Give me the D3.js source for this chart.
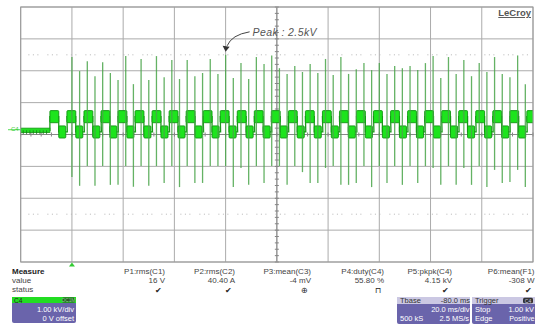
<!DOCTYPE html>
<html><head><meta charset="utf-8">
<script src="https://cdn.jsdelivr.net/npm/d3@7"></script>
<style>body{margin:0;background:#fff}svg{display:block;font-family:"Liberation Sans",Arial,sans-serif}</style>
</head><body><svg id="c" width="535" height="325"></svg>
<script>
// ---------- data ----------
const timeGrid = [-20,0,20,40,60,80,100,120,140,160,180];   // ms, 20 ms/div
const voltGrid = [-4,-3,-2,-1,0,1,2,3,4];                  // kV, 1 kV/div
const cursorLevels = [2.5, -2.5];
const baselineSpan = [-20, -8.6];
const baselineLevel = 0.13;
const risingEdges = [-8.6,-1.95,4.7,11.35,18.0,24.65,31.3,37.95,44.6,51.25,57.9,64.55,71.2,77.85,84.5,91.15,97.8,104.45,111.1,117.75,124.4,131.05,137.7,144.35,151.0,157.65,164.3,170.95,177.6];
const highLevel = 0.56, lowLevel = 0.08, levelBand = 0.19, highWidth = 3.45, lowWidth = 2.75;
const spikeTimes = [0,3,6,9,12,15,18,21,24,27,30,33,36,39,42,45,48,51,54,57,60,63,66,69,72,75,78,81,84,87,90,93,96,99,102,105,108,111,114,117,120,123,126,129,132,135,138,141,144,147,150,153,156,159,162,165,168,171,174,177];
const spikeTop = [2.43,1.99,2.30,1.83,2.27,1.93,1.71,2.46,1.58,2.37,1.71,2.46,1.80,2.34,1.74,2.34,1.83,1.93,2.37,1.90,2.50,1.77,2.24,1.74,2.43,2.21,2.48,2.08,1.90,2.15,1.96,2.21,1.93,2.37,1.87,2.43,1.90,2.05,2.24,2.02,2.24,1.90,2.15,2.08,2.15,2.02,2.24,2.46,1.77,2.43,1.90,2.34,1.83,2.24,1.96,2.43,1.90,1.80,2.48,1.58];
const spikeBottom = [-1.33,-1.61,-0.99,-1.61,-0.99,-1.58,-1.58,-0.99,-1.64,-0.99,-1.61,-0.99,-1.52,-0.99,-1.65,-0.99,-1.52,-1.52,-0.99,-0.99,-0.99,-1.65,-1.05,-1.58,-0.99,-1.52,-0.99,-0.99,-1.58,-0.99,-1.18,-1.52,-1.52,-1.05,-0.99,-1.58,-1.58,-1.52,-0.99,-1.65,-0.99,-1.52,-0.99,-1.58,-0.99,-1.52,-0.99,-1.05,-1.58,-0.99,-1.58,-1.05,-1.58,-0.99,-1.65,-1.11,-1.52,-1.49,-1.11,-1.65];
const peakIndex = 20;
const peakLabel = "Peak : 2.5kV";
const measureNames = ["P1:rms(C1)","P2:rms(C2)","P3:mean(C3)","P4:duty(C4)","P5:pkpk(C4)","P6:mean(F1)"];
const measureValues = ["16 V","40.40 A","-4 mV","55.80 %","4.15 kV","-308 W"];
const measureStatus = ["\u2714","\u2714","\u2295","\u2293","\u2714","\u2714"];
const chanInfo = ["C4","DC1M","1.00 kV/div","0 V offset"];
const tbaseInfo = ["Tbase","-80.0 ms","20.0 ms/div","500 kS","2.5 MS/s"];
const trigInfo = ["Trigger","C4","Stop","1.00 kV","Edge","Positive"];

// ---------- layout ----------
const svg = d3.select("#c");
const L = 20.7, R = 533, T = 7, B = 262;
const x = d3.scaleLinear().domain([-20,180]).range([L,R]);
const y = d3.scaleLinear().domain([-4,4]).range([B,T]);

svg.append("defs").append("clipPath").attr("id","pc").append("rect")
  .attr("x",L).attr("y",T).attr("width",R-L).attr("height",B-T);

const grid = svg.append("g");
grid.selectAll(".vx").data(timeGrid).join("line")
  .attr("x1",d=>x(d)).attr("x2",d=>x(d)).attr("y1",T).attr("y2",B)
  .attr("stroke","#ababab").attr("stroke-width",1);
grid.selectAll(".hy").data(voltGrid).join("line")
  .attr("y1",d=>y(d)).attr("y2",d=>y(d)).attr("x1",L).attr("x2",R)
  .attr("stroke","#ababab").attr("stroke-width",1);

// center axes minor ticks
const vt = d3.range(-4, 4.001, 0.2);
grid.selectAll(".vt").data(vt).join("line")
  .attr("x1",x(80)-2).attr("x2",x(80)+2).attr("y1",d=>y(d)).attr("y2",d=>y(d))
  .attr("stroke","#777").attr("stroke-width",0.9);
const ht = d3.range(-20, 180.001, 4);
grid.selectAll(".ht").data(ht).join("line")
  .attr("y1",y(0)-2).attr("y2",y(0)+2).attr("x1",d=>x(d)).attr("x2",d=>x(d))
  .attr("stroke","#777").attr("stroke-width",0.9);
grid.append("line").attr("x1",x(80)).attr("x2",x(80)).attr("y1",T).attr("y2",B).attr("stroke","#888");
grid.append("line").attr("y1",y(0)).attr("y2",y(0)).attr("x1",L).attr("x2",R).attr("stroke","#888");

// cursors (dotted)
grid.selectAll(".cur").data(cursorLevels).join("line")
  .attr("x1",x(-17)).attr("x2",x(178)).attr("y1",d=>y(d)).attr("y2",d=>y(d))
  .attr("stroke","#b5b5b5").attr("stroke-width",1)
  .attr("stroke-dasharray","1,3.5,1,3.5,1,9");

// waveform
const wf = svg.append("g").attr("clip-path","url(#pc)");
const pts = [[baselineSpan[0], baselineLevel],[baselineSpan[1], baselineLevel]];
risingEdges.forEach(r => { pts.push([r, highLevel],[r+highWidth, highLevel],[r+highWidth, lowLevel],[r+highWidth+lowWidth+0.6, lowLevel]); });
wf.append("path").attr("d", d3.line().x(d=>x(d[0])).y(d=>y(d[1]))(pts))
  .attr("fill","none").attr("stroke","#1a9a1a").attr("stroke-width",1.3);
wf.append("rect").attr("x",x(baselineSpan[0])).attr("width",x(baselineSpan[1])-x(baselineSpan[0]))
  .attr("y",y(baselineLevel+0.07)).attr("height",y(baselineLevel-0.07)-y(baselineLevel+0.07))
  .attr("fill","#22dd22").attr("stroke","#169a16").attr("stroke-width",0.8);
wf.selectAll(".bt").data(d3.range(-19,-9,1.3)).join("line")
  .attr("x1",d=>x(d)).attr("x2",d=>x(d)).attr("y1",y(baselineLevel)).attr("y2",y(baselineLevel-0.12))
  .attr("stroke","#177a17").attr("stroke-width",0.8);
wf.selectAll(".hb").data(risingEdges).join("rect")
  .attr("x",d=>x(d)).attr("width",d=>x(d+highWidth)-x(d))
  .attr("y",y(highLevel+levelBand)).attr("height",y(highLevel-levelBand)-y(highLevel+levelBand))
  .attr("fill","#1de41d").attr("stroke","#139413").attr("stroke-width",0.9).attr("rx",1);
wf.selectAll(".lb").data(risingEdges).join("rect")
  .attr("x",d=>x(d+highWidth)).attr("width",d=>x(d+highWidth+lowWidth)-x(d+highWidth))
  .attr("y",y(lowLevel+levelBand)).attr("height",y(lowLevel-levelBand)-y(lowLevel+levelBand))
  .attr("fill","#1de41d").attr("stroke","#139413").attr("stroke-width",0.9).attr("rx",1);
wf.selectAll(".sp").data(spikeTimes).join("line")
  .attr("x1",d=>x(d)).attr("x2",d=>x(d))
  .attr("y1",(d,i)=>y(spikeTop[i])).attr("y2",(d,i)=>y(spikeBottom[i]))
  .attr("stroke","#4aa54a").attr("stroke-width",1.3).attr("opacity",0.85);

// frame
svg.append("rect").attr("x",L).attr("y",T).attr("width",R-L).attr("height",B-T)
  .attr("fill","none").attr("stroke","#999").attr("stroke-width",1);

// channel marker
svg.append("line").attr("x1",8).attr("x2",L).attr("y1",y(0.15)).attr("y2",y(0.15)).attr("stroke","#55dd55").attr("stroke-width",1);
svg.append("text").attr("x",11).attr("y",y(0.15)+1).attr("font-size",6).attr("fill","#33cc33").text(chanInfo[0]);
svg.append("path").attr("d",`M${x(0)-3},${B+4.5}L${x(0)+3},${B+4.5}L${x(0)},${B+0.5}Z`).attr("fill","#33cc33");

// peak annotation
const px = x(spikeTimes[peakIndex]), py = y(spikeTop[peakIndex]);
svg.append("path").attr("d",`M${px+24},${py-23} Q${px+6},${py-20} ${px+1.5},${py-9}`)
  .attr("fill","none").attr("stroke","#444").attr("stroke-width",1);
svg.append("path").attr("d",`M${px-3},${py-9}L${px+4},${py-8}L${px},${py-3}Z`).attr("fill","#333");
svg.append("text").attr("x",px+27).attr("y",py-19).attr("font-size",10.5).attr("font-style","italic")
  .attr("fill","#555").attr("letter-spacing",0.4).text(peakLabel);

// LeCroy logo
svg.append("text").attr("x",531).attr("y",16).attr("text-anchor","end").attr("font-size",9.5)
  .attr("fill","#555").attr("font-weight","bold").attr("text-decoration","underline").text("LeCroy");

// measurement table
const mt = svg.append("g").attr("font-size",8).attr("fill","#444");
mt.append("text").attr("x",12).attr("y",274).attr("font-weight","bold").attr("fill","#222").text("Measure");
mt.append("text").attr("x",12).attr("y",283).text("value");
mt.append("text").attr("x",12).attr("y",292).text("status");
const colRight = [165,235,311,384,452,534.5];
mt.selectAll(".mn").data(measureNames).join("text").attr("x",(d,i)=>colRight[i]).attr("y",274)
  .attr("text-anchor","end").text(d=>d);
mt.selectAll(".mv").data(measureValues).join("text").attr("x",(d,i)=>colRight[i]).attr("y",283)
  .attr("text-anchor","end").text(d=>d);
mt.selectAll(".ms").data(measureStatus).join("text").attr("x",(d,i)=>colRight[i]-3).attr("y",293)
  .attr("text-anchor","end").attr("font-size",8).attr("fill","#222").text(d=>d);

// C4 box
const purple = "#6a64ab";
const cb = svg.append("g").attr("font-size",7.5);
cb.append("rect").attr("x",12).attr("y",297).attr("width",64).attr("height",26).attr("rx",2).attr("fill",purple);
cb.append("rect").attr("x",12).attr("y",297).attr("width",64).attr("height",6).attr("fill","#22dd22");
cb.append("text").attr("x",14).attr("y",302.5).attr("font-size",6.5).attr("fill","#222").text(chanInfo[0]);
cb.append("rect").attr("x",62).attr("y",297.5).attr("width",13).attr("height",5).attr("rx",1.5).attr("fill","#2b4f2b");
cb.append("text").attr("x",68.5).attr("y",302).attr("font-size",4.8).attr("text-anchor","middle").attr("fill","#7ee87e").text(chanInfo[1]);
cb.append("text").attr("x",74).attr("y",312).attr("text-anchor","end").attr("fill","#fff").text(chanInfo[2]);
cb.append("text").attr("x",74).attr("y",320.5).attr("text-anchor","end").attr("fill","#fff").text(chanInfo[3]);

// Tbase box
const tb = svg.append("g").attr("font-size",7.5);
tb.append("rect").attr("x",397).attr("y",297).attr("width",73).attr("height",27).attr("rx",2).attr("fill",purple);
tb.append("rect").attr("x",397).attr("y",297).attr("width",73).attr("height",7).attr("fill","#cbc8e3");
tb.append("text").attr("x",400).attr("y",303).attr("fill","#333").text(tbaseInfo[0]);
tb.append("text").attr("x",470).attr("y",303).attr("text-anchor","end").attr("fill","#333").text(tbaseInfo[1]);
tb.append("text").attr("x",469.5).attr("y",312).attr("text-anchor","end").attr("fill","#fff").text(tbaseInfo[2]);
tb.append("text").attr("x",400).attr("y",320.5).attr("fill","#fff").text(tbaseInfo[3]);
tb.append("text").attr("x",469).attr("y",320.5).attr("text-anchor","end").attr("fill","#fff").text(tbaseInfo[4]);

// Trigger box
const gb = svg.append("g").attr("font-size",7.5);
gb.append("rect").attr("x",472).attr("y",297).attr("width",66).attr("height",27).attr("rx",2).attr("fill",purple);
gb.append("rect").attr("x",472).attr("y",297).attr("width",66).attr("height",7).attr("fill","#cbc8e3");
gb.append("text").attr("x",475).attr("y",303).attr("fill","#333").text(trigInfo[0]);
gb.append("rect").attr("x",523).attr("y",297.8).attr("width",10).attr("height",5.5).attr("rx",1.5).attr("fill","#333");
gb.append("text").attr("x",528).attr("y",302.5).attr("font-size",5).attr("text-anchor","middle").attr("fill","#cbc8e3").text(trigInfo[1]);
gb.append("text").attr("x",475).attr("y",312).attr("fill","#fff").text(trigInfo[2]);
gb.append("text").attr("x",534).attr("y",312).attr("text-anchor","end").attr("fill","#fff").text(trigInfo[3]);
gb.append("text").attr("x",475).attr("y",320.5).attr("fill","#fff").text(trigInfo[4]);
gb.append("text").attr("x",534.5).attr("y",320.5).attr("text-anchor","end").attr("font-size",7.2).attr("fill","#fff").text(trigInfo[5]);
</script></body></html>
